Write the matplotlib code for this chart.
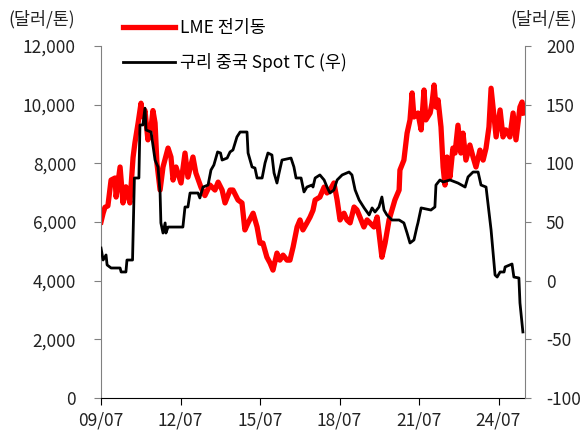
import matplotlib
matplotlib.use("Agg")
import matplotlib.pyplot as plt

plt.rcParams['font.family'] = ['Noto Sans CJK KR', 'DejaVu Sans']

# LME copper (USD/t), dates as decimal years
cu_dates = [2009.50, 2009.58, 2009.65, 2009.76, 2009.88, 2010.03, 2010.07, 2010.22, 2010.33,
            2010.44, 2010.59, 2010.71, 2010.78, 2010.90, 2011.01, 2011.08, 2011.16, 2011.27,
            2011.39, 2011.46, 2011.54, 2011.61, 2011.73, 2011.84, 2012.03, 2012.14, 2012.22,
            2012.33, 2012.52, 2012.67, 2012.78, 2012.97, 2013.08, 2013.27, 2013.42, 2013.61,
            2013.80, 2013.92, 2014.07, 2014.18, 2014.37, 2014.48, 2014.67, 2014.82, 2014.93,
            2015.05, 2015.24, 2015.39, 2015.50, 2015.61, 2015.76, 2015.88, 2015.99, 2016.14,
            2016.25, 2016.37, 2016.52, 2016.63, 2016.75, 2016.90, 2017.01, 2017.12, 2017.27,
            2017.39, 2017.50, 2017.58, 2017.76, 2017.92, 2018.03, 2018.14, 2018.29, 2018.41,
            2018.52, 2018.67, 2018.78, 2018.90, 2019.05, 2019.16, 2019.27, 2019.42, 2019.54,
            2019.65, 2019.80, 2019.92, 2019.99, 2020.10, 2020.22, 2020.37, 2020.48, 2020.59,
            2020.75, 2020.78, 2020.93, 2021.05, 2021.16, 2021.24, 2021.31, 2021.46, 2021.58,
            2021.69, 2021.76, 2021.92, 2021.99, 2022.07, 2022.14, 2022.22, 2022.33, 2022.41,
            2022.48, 2022.56, 2022.67, 2022.78, 2022.86, 2022.97, 2023.08, 2023.16, 2023.27,
            2023.42, 2023.54, 2023.65, 2023.80, 2023.92, 2024.03, 2024.14, 2024.22, 2024.33,
            2024.41, 2024.56, 2024.67, 2024.78, 2024.93, 2025.05, 2025.16, 2025.31, 2025.39,
            2025.46]
cu_price = [6000, 6300, 6500, 6550, 7430, 7500, 6850, 7875, 6650,
            7200, 6650, 8200, 8700, 9375, 10050, 9580, 9800, 8800,
            9240, 9800, 9375, 8010, 7090, 7875, 8520, 8215, 7430,
            7875, 7330, 8350, 7530, 8215, 7670, 7190, 6900, 7260,
            7090, 7360, 7090, 6650, 7090, 7090, 6750, 6650, 5730,
            5970, 6300, 5830, 5280, 5280, 4800, 4600, 4360, 4940,
            4700, 4870, 4700, 4700, 5150, 5830, 6070, 5730, 5970,
            6170, 6400, 6750, 6850, 7190, 6990, 7090, 7330, 6750,
            6070, 6300, 6070, 5970, 6510, 6410, 6170, 5830, 6070,
            5970, 5830, 6170, 5630, 4800, 5280, 6070, 6410, 6750,
            7090, 7770, 8110, 9030, 9480, 10400, 9580, 9715, 9140,
            10500, 9480, 9715, 10050, 10670, 9920, 10160, 9240, 7875,
            7260, 8215, 7530, 8520, 8350, 9300, 8350, 9030, 8110,
            8625, 8215, 7875, 8450, 8110, 8520, 9240, 10560, 9580,
            8900, 9820, 8900, 9140, 8900, 9715, 8800, 9920, 10090,
            9715]

# China spot copper concentrate TC (USD/t), right axis
tc_dates = [2009.50, 2009.58, 2009.69, 2009.73, 2009.88, 2010.22, 2010.26, 2010.44, 2010.48,
            2010.69, 2010.76, 2010.93, 2010.97, 2011.08, 2011.16, 2011.20, 2011.39, 2011.54,
            2011.65, 2011.73, 2011.76, 2011.84, 2011.92, 2011.95, 2012.03, 2012.59, 2012.67,
            2012.78, 2012.86, 2013.16, 2013.23, 2013.35, 2013.54, 2013.65, 2013.76, 2013.90,
            2014.01, 2014.07, 2014.26, 2014.37, 2014.48, 2014.63, 2014.75, 2015.01, 2015.05,
            2015.20, 2015.31, 2015.39, 2015.58, 2015.69, 2015.80, 2015.95, 2016.03, 2016.14,
            2016.22, 2016.33, 2016.67, 2016.78, 2016.86, 2017.05, 2017.16, 2017.27, 2017.46,
            2017.50, 2017.58, 2017.76, 2017.92, 2018.03, 2018.14, 2018.29, 2018.41, 2018.60,
            2018.86, 2018.97, 2019.09, 2019.24, 2019.43, 2019.62, 2019.73, 2019.84, 2019.99,
            2020.10, 2020.18, 2020.29, 2020.48, 2020.75, 2020.93, 2021.05, 2021.16, 2021.31,
            2021.42, 2021.46, 2021.58, 2021.95, 2022.10, 2022.14, 2022.29, 2022.41, 2022.67,
            2022.97, 2023.24, 2023.35, 2023.54, 2023.73, 2023.84, 2024.03, 2024.22, 2024.37,
            2024.45, 2024.56, 2024.71, 2024.75, 2025.01, 2025.08, 2025.27, 2025.31,
            2025.42]
tc_value = [27.8, 17.6, 21.9, 13.4, 10.8, 10.8, 7.4, 7.4, 17.6,
            17.6, 87.5, 87.5, 132.7, 132.7, 147.0, 128.4, 126.7, 102.8,
            96.9, 74.7, 49.2, 40.6, 49.2, 40.6, 45.7, 45.7, 62.8,
            62.8, 74.7, 74.7, 70.5, 79.8, 81.5, 94.3, 98.6, 109.7,
            108.8, 102.8, 104.5, 109.7, 111.4, 122.5, 126.7, 126.7, 108.8,
            96.9, 96.0, 87.5, 87.5, 100.3, 108.8, 107.1, 91.8, 83.2,
            91.8, 102.8, 104.5, 96.9, 87.5, 87.5, 75.6, 79.8, 81.5,
            79.8, 87.5, 90.1, 85.8, 79.8, 74.7, 77.3, 85.8, 90.1,
            92.6, 90.1, 77.3, 68.8, 62.0, 56.0, 62.0, 58.5, 62.8,
            71.3, 60.2, 56.0, 51.7, 51.7, 49.2, 40.6, 32.1, 34.7,
            45.7, 49.2, 62.0, 60.2, 62.8, 81.5, 85.8, 84.1, 85.8,
            83.2, 79.8, 88.4, 92.6, 92.6, 81.5, 79.8, 43.2, 4.8,
            3.1, 7.4, 7.4, 11.7, 14.2, 3.1, 2.3, -19.0,
            -43.7]

x_ticks = [2009.5, 2012.5, 2015.5, 2018.5, 2021.5, 2024.5]
x_labels = ['09/07', '12/07', '15/07', '18/07', '21/07', '24/07']
left_ticks = [0, 2000, 4000, 6000, 8000, 10000, 12000]
right_ticks = [-100, -50, 0, 50, 100, 150, 200]

FS = 12.5
GRAY = '#808080'

fig = plt.figure(figsize=(5.85, 4.34), dpi=100)
ax = fig.add_axes([101/585, 1 - 398/434, 424/585, 352/434])
ax2 = ax.twinx()

l1, = ax.plot(cu_dates, cu_price, color='#ff0000', lw=3.8, solid_joinstyle='round')
l2, = ax2.plot(tc_dates, tc_value, color='black', lw=2.0)

ax.set_xlim(2009.5, 2025.5)
ax.set_ylim(0, 12000)
ax2.set_ylim(-100, 200)
ax.set_xticks(x_ticks)
ax.set_xticklabels(x_labels)
ax.set_yticks(left_ticks)
ax.set_yticklabels([f'{v:,}' for v in left_ticks])
ax2.set_yticks(right_ticks)
ax2.set_yticklabels([str(v) for v in right_ticks])

for a in (ax, ax2):
    a.spines['top'].set_visible(False)
ax.spines['right'].set_visible(False)
ax2.spines['left'].set_visible(False)
ax2.spines['bottom'].set_visible(False)
ax.spines['left'].set_color(GRAY)
ax2.spines['right'].set_color(GRAY)
ax.spines['bottom'].set_color('black')

ax.tick_params(axis='y', direction='out', length=5, color=GRAY, labelsize=FS, pad=13, labelcolor='#222222')
ax.tick_params(axis='x', direction='out', length=5, color='black', labelsize=FS, pad=5, labelcolor='#222222')
ax2.tick_params(axis='y', direction='out', length=4, color=GRAY, labelsize=FS, pad=11, labelcolor='#222222')

fig.text(8/585, 1 - 19/434, '(달러/톤)', fontsize=FS, ha='left', va='center', color='#222222')
fig.text(577/585, 1 - 19/434, '(달러/톤)', fontsize=FS, ha='right', va='center', color='#222222')

fig.legend([l1, l2], ['LME 전기동', '구리 중국 Spot TC (우)'], loc='upper left',
           bbox_to_anchor=(116/585, 1 - 12/434), frameon=False, fontsize=FS,
           handlelength=3.0, handletextpad=0.3, labelspacing=0.95, borderaxespad=0)

fig.savefig('out.png', dpi=100)
